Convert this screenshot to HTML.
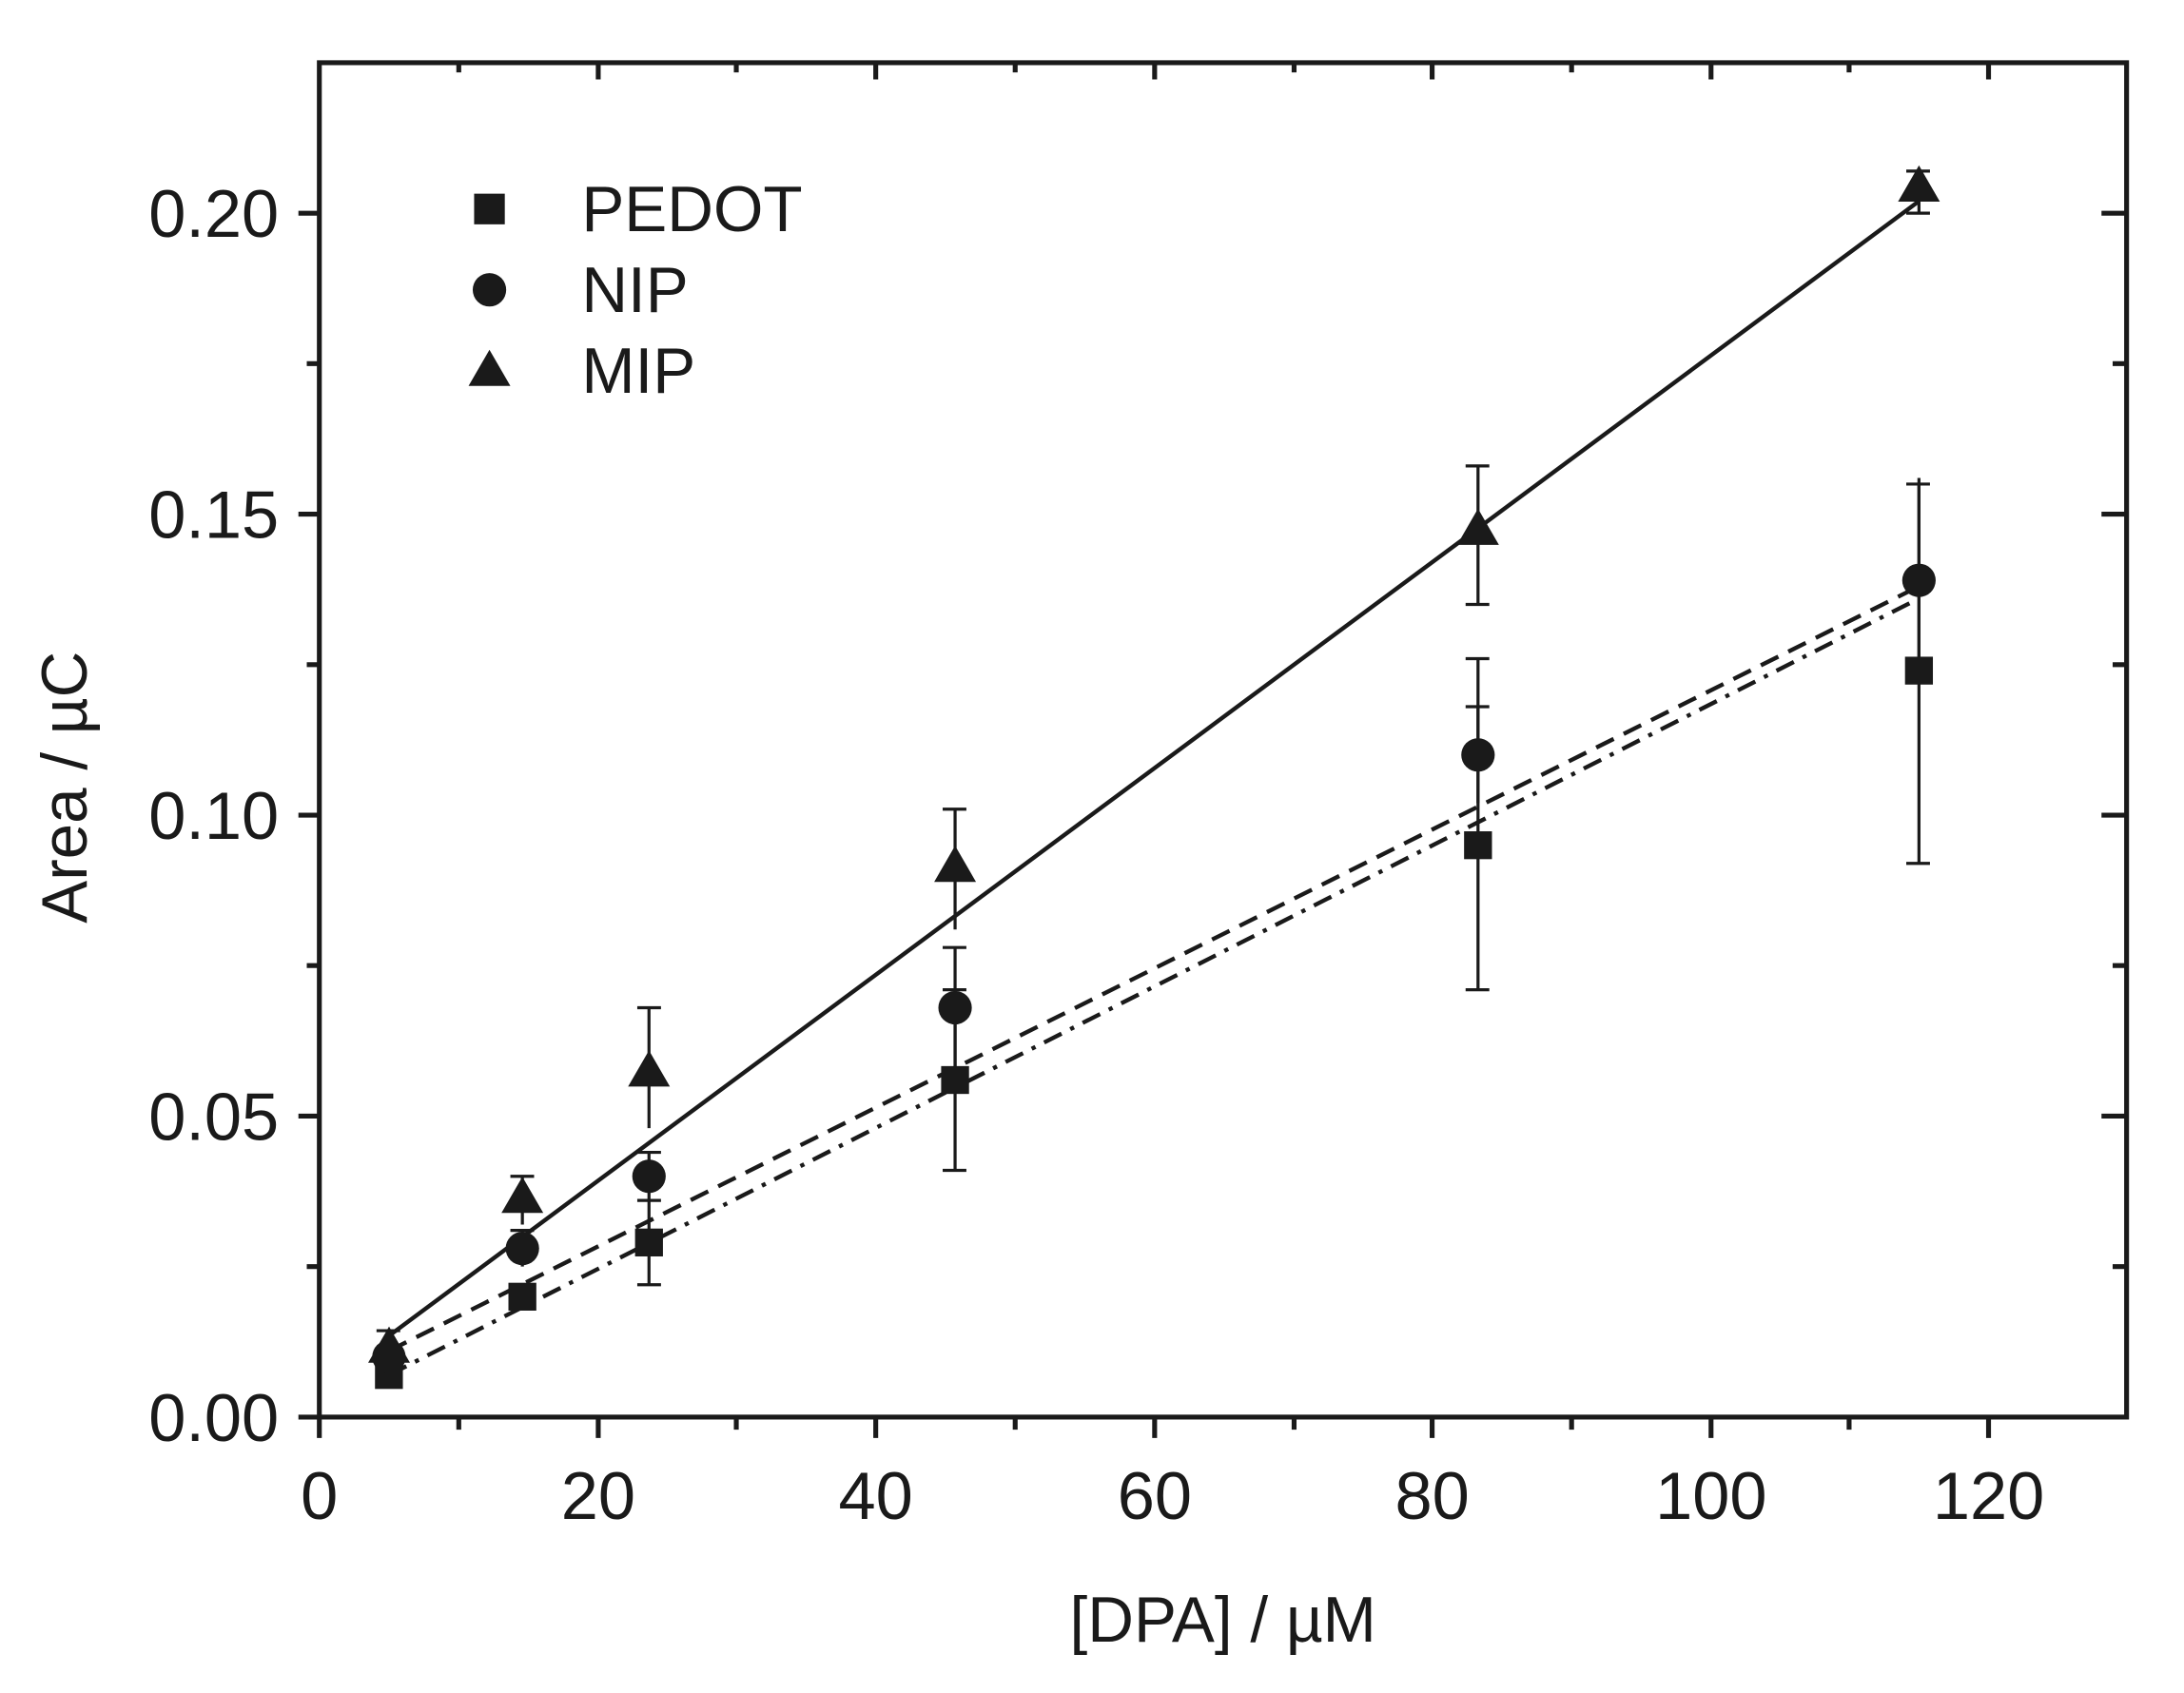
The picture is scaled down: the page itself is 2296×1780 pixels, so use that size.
<!DOCTYPE html>
<html><head><style>html,body{margin:0;padding:0;background:#fff}svg{display:block}</style></head>
<body>
<svg width="2296" height="1780" viewBox="0 0 2296 1780" xmlns="http://www.w3.org/2000/svg">
<rect width="2296" height="1780" fill="#fff"/>
<g transform="matrix(1.466 0 0 1.465 0 0)" font-family="Liberation Sans, Arial, sans-serif" fill="#1a1a1a">
<g stroke="#1a1a1a" stroke-width="3.5" fill="none">
<rect x="229" y="45" width="1296" height="972"/>
<path d="M229 1017v15 M429 1017v15 M628 1017v15 M828 1017v15 M1027 1017v15 M1227 1017v15 M1426 1017v15
M329 1017v9 M528 1017v9 M728 1017v9 M928 1017v9 M1127 1017v9 M1326 1017v9"/>
<path d="M429 45v12 M628 45v12 M828 45v12 M1027 45v12 M1227 45v12 M1426 45v12
M329 45v7 M528 45v7 M728 45v7 M928 45v7 M1127 45v7 M1326 45v7"/>
<path d="M229 1017h-15 M229 801h-15 M229 585h-15 M229 369h-15 M229 153h-15
M229 909h-9 M229 693h-9 M229 477h-9 M229 261h-9"/>
<path d="M1525 801h-18 M1525 585h-18 M1525 369h-18 M1525 153h-18
M1525 909h-10 M1525 693h-10 M1525 477h-10 M1525 261h-10"/>
</g>
<g font-size="48" text-anchor="end">
<text x="200" y="1034">0.00</text>
<text x="200" y="818">0.05</text>
<text x="200" y="602">0.10</text>
<text x="200" y="386">0.15</text>
<text x="200" y="170">0.20</text>
</g>
<g font-size="48" text-anchor="middle">
<text x="229" y="1090">0</text>
<text x="429" y="1090">20</text>
<text x="628" y="1090">40</text>
<text x="828" y="1090">60</text>
<text x="1027" y="1090">80</text>
<text x="1227" y="1090">100</text>
<text x="1426" y="1090">120</text>
<text x="877" y="1178" font-size="46">[DPA] / µM</text>
<text transform="translate(62 565) rotate(-90)" font-size="46">Area / µC</text>
</g>
<g font-size="46">
<rect x="340" y="139" width="22" height="22"/>
<text x="417" y="166">PEDOT</text>
<circle cx="351" cy="208" r="12"/>
<text x="417" y="224">NIP</text>
<path d="M336 277 L351 251 L366 277 Z"/>
<text x="417" y="282">MIP</text>
</g>
<g stroke="#1a1a1a" stroke-width="3" fill="none">
<line x1="278.9" y1="958.7" x2="1376.1" y2="144.4"/>
<line x1="278.9" y1="969.5" x2="1376.1" y2="420.8" stroke-dasharray="14 8"/>
<line x1="278.9" y1="986.8" x2="1376.1" y2="429.5" stroke-dasharray="14 7 3 7"/>
</g>
<g stroke="#1a1a1a" stroke-width="2.2" fill="none">
<path d="M374.6 878.8V844.2 M366 844.2h17 M465.4 809.6V723.2 M457 723.2h17 M684.9 667.1V580.7 M676 580.7h17 M1059.9 433.8V334.4 M1051 433.8h17 M1051 334.4h17 M1376.1 153V122.8 M1367 153h17 M1367 122.8h17"/>
<path d="M684.9 766.4V680 M676 680h17 M1059.9 576.4V507.2 M1051 507.2h17 M1376.1 485.6V347.4 M1367 347.4h17 M465.4 861.5V827 M457 827h17 M374.6 909V883 M366 883h17"/>
<path d="M465.4 922V861.5 M457 922h17 M457 861.5h17 M684.9 839.9V710.3 M676 839.9h17 M676 710.3h17 M1059.9 710.3V472.7 M1051 710.3h17 M1051 472.7h17 M1376.1 619.6V343 M1367 619.6h17 M278.9 990V955 M270 955h17"/>
</g>
<g>
<rect x="268.9" y="976.8" width="20" height="20"/>
<rect x="364.6" y="920.6" width="20" height="20"/>
<rect x="455.4" y="881.7" width="20" height="20"/>
<rect x="674.9" y="765.1" width="20" height="20"/>
<rect x="1049.9" y="596.6" width="20" height="20"/>
<rect x="1366.1" y="471.3" width="20" height="20"/>
</g>
<g>
<circle cx="278.9" cy="973.8" r="12"/>
<circle cx="374.6" cy="896" r="12"/>
<circle cx="465.4" cy="844.2" r="12"/>
<circle cx="684.9" cy="723.2" r="12"/>
<circle cx="1059.9" cy="541.8" r="12"/>
<circle cx="1376.1" cy="416.5" r="12"/>
</g>
<g>
<path d="M264 978 L279 952 L294 978Z"/>
<path d="M359.6 870.5 L374.6 844.5 L389.6 870.5Z"/>
<path d="M450.4 779.8 L465.4 753.8 L480.4 779.8Z"/>
<path d="M669.9 632.9 L684.9 606.9 L699.9 632.9Z"/>
<path d="M1044.9 391 L1059.9 365 L1074.9 391Z"/>
<path d="M1361.1 144.7 L1376.1 118.7 L1391.1 144.7Z"/>
</g>
</g>
</svg>
</body></html>
